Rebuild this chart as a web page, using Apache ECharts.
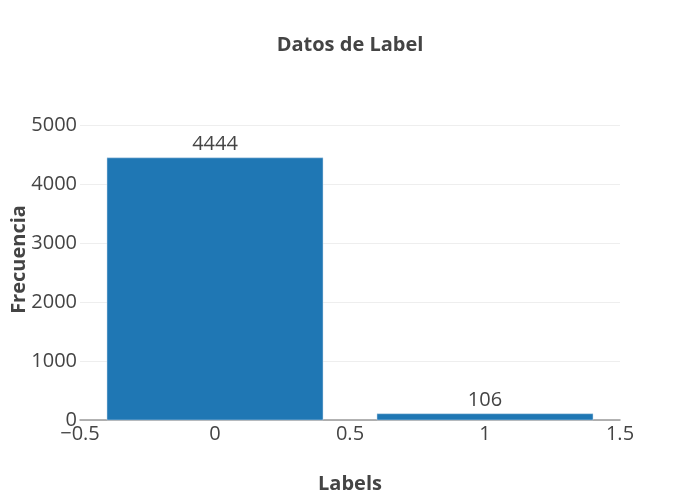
<!DOCTYPE html>
<html>
<head>
<meta charset="utf-8">
<script src="https://cdn.jsdelivr.net/npm/echarts@6/dist/echarts.min.js"></script>
<style>
  html, body { margin: 0; padding: 0; background: #fff; }
  #chart { width: 700px; height: 500px; }
</style>
</head>
<body>
<div id="chart"></div>
<script>
// datos
const labels = [0, 1];
const counts = [4444, 106];
const yTicks = [0, 1000, 2000, 3000, 4000, 5000];

const font = "'Open Sans', sans-serif";
const textColor = "#444";

const chart = echarts.init(document.getElementById("chart"));

const option = {
  animation: false,
  textStyle: { fontFamily: font },
  title: {
    text: "Datos de Label",
    left: "center",
    top: 30,
    textStyle: { fontFamily: font, fontSize: 20, fontWeight: "bold", color: textColor }
  },
  grid: { left: 80, right: 80, top: 125, bottom: 80, containLabel: false, outerBoundsMode: "none" },
  xAxis: {
    type: "value",
    min: -0.5,
    max: 1.5,
    interval: 0.5,
    name: "Labels",
    nameLocation: "middle",
    nameGap: 54,
    nameTextStyle: { fontFamily: font, fontSize: 20, fontWeight: "bold", color: textColor },
    axisLine: { show: true, lineStyle: { color: "#999", width: 1.5 } },
    axisTick: { show: false },
    splitLine: { show: false },
    axisLabel: {
      fontFamily: font,
      fontSize: 20,
      color: textColor,
      margin: 4,
      formatter: (v) => (v < 0 ? "\u2212" + Math.abs(v) : String(v))
    }
  },
  yAxis: {
    type: "value",
    min: yTicks[0],
    max: yTicks[yTicks.length - 1],
    interval: 1000,
    name: "Frecuencia",
    nameLocation: "middle",
    nameGap: 51,
    nameMoveOverlap: false,
    nameTextStyle: { fontFamily: font, fontSize: 20, fontWeight: "bold", color: textColor, padding: [0, 0, 0, 26] },
    axisLine: { show: false },
    axisTick: { show: false },
    splitLine: { lineStyle: { color: "#eee", width: 1 } },
    axisLabel: { fontFamily: font, fontSize: 20, color: textColor, margin: 3, formatter: (v) => String(v) }
  },
  series: [
    {
      type: "custom",
      data: labels.map((l, i) => [l, counts[i]]),
      renderItem: (params, api) => {
        const x = api.value(0);
        const y = api.value(1);
        const p0 = api.coord([x - 0.4, y]);
        const p1 = api.coord([x + 0.4, 0]);
        return {
          type: "rect",
          shape: { x: p0[0], y: p0[1], width: p1[0] - p0[0], height: p1[1] - p0[1] },
          style: { fill: "#1f77b4", stroke: "#c9dbeb", lineWidth: 0.5 },
          textContent: {
            style: { text: String(y), fontFamily: font, fontSize: 20, fill: textColor }
          },
          textConfig: { position: "top", distance: 3 }
        };
      },
      z: 3
    }
  ]
};

chart.setOption(option);
</script>
</body>
</html>
